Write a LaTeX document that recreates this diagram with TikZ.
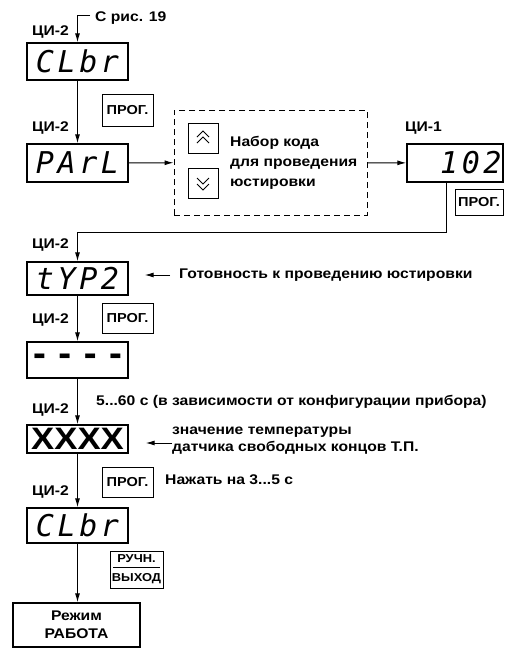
\documentclass[tikz,border=0pt]{standalone}
\usepackage{fontspec}
\setmainfont{Liberation Sans}[FakeStretch=1.12]
\newfontfamily\segfont{DejaVu Sans Mono}
\usetikzlibrary{arrows.meta, positioning, calc}

\begin{document}
\begin{tikzpicture}[
    x=1pt, y=-1pt,
    lbl/.style={inner sep=0pt, font=\fontsize{14}{16}\selectfont\bfseries},
    note/.style={inner sep=0pt, align=left, font=\fontsize{14}{17}\selectfont\bfseries},
    dispbox/.style={draw, line width=1.3pt, rectangle, minimum width=101pt, inner sep=0pt, font=\segfont\itshape\fontsize{30}{30}\selectfont\addfontfeature{LetterSpace=12}},
    keybox/.style={draw, line width=1pt, rectangle, minimum width=51pt, minimum height=32pt, inner sep=0pt, align=center, font=\fontsize{13}{13}\selectfont\bfseries},
    arrowbtn/.style={draw, line width=0.8pt, rectangle, minimum width=30pt, minimum height=30pt, inner sep=0pt},
    modebox/.style={draw, line width=1.3pt, rectangle, minimum width=127pt, minimum height=44pt, inner sep=0pt, align=center, font=\fontsize{14}{18}\selectfont\bfseries},
    arrow/.style={-{Latex[length=9pt,width=5pt]}, line width=1pt},
    link/.style={line width=1pt}
]
\useasboundingbox (0,0) rectangle (511,648);

% Displays
\node (clbr_a) [dispbox, minimum height=37pt] at (77.5,61.5) {CLbr\hspace{-3.6pt}};
\node (parl) [dispbox, minimum height=38pt] at (77.5,163) {PArL\hspace{-3.6pt}};
\node (code) [dispbox, minimum width=96pt, minimum height=38pt, text width=93pt, align=right] at (455,163) {102\hspace{-3.6pt}};
\node (typ) [dispbox, minimum height=33pt] at (77.5,278.5) {tYP2\hspace{-3.6pt}};
\node (dash) [dispbox, minimum height=36pt, font=\segfont\bfseries\fontsize{32}{32}\selectfont\addfontfeature{LetterSpace=19}] at (77.5,360) {-{}-{}-{}-\hspace{-6pt}};
\node (temp) [dispbox, minimum height=28pt, font=\fontsize{31}{31}\selectfont\bfseries] at (77.5,439) {XXXX};
\node (clbr_b) [dispbox, minimum height=35pt] at (77.5,525.5) {CLbr\hspace{-3.6pt}};
\node (mode) [modebox] at (76.5,625) {Режим\\РАБОТА};

% Indicator labels
\node (lbl_a) [lbl, anchor=east] at (69,32) {ЦИ-2};
\node (lbl_b) [lbl, anchor=east] at (69,128) {ЦИ-2};
\node (lbl_c) [lbl, anchor=west] at (405,128) {ЦИ-1};
\node (lbl_d) [lbl, anchor=east] at (69,245) {ЦИ-2};
\node (lbl_e) [lbl, anchor=east] at (69,320) {ЦИ-2};
\node (lbl_f) [lbl, anchor=east] at (69,410) {ЦИ-2};
\node (lbl_g) [lbl, anchor=east] at (69,492) {ЦИ-2};

% Keys
\node (prog_a) [keybox] at (127.5,110) {ПРОГ.};
\node (prog_b) [keybox, minimum width=48pt, minimum height=26pt] at (479,202) {ПРОГ.};
\node (prog_c) [keybox, minimum height=30pt] at (127.5,318) {ПРОГ.};
\node (prog_d) [keybox, minimum height=30pt] at (127.5,482) {ПРОГ.};
\node (manual) [keybox, minimum width=53pt, minimum height=37pt, font=\fontsize{11.5}{12}\selectfont\bfseries] at (136.5,569.5) {РУЧН.\\[7pt]ВЫХОД};
\draw [line width=0.8pt] ($(manual.west)+(3.5,-2)$) -- ($(manual.east)+(-3.5,-2)$);

% Code entry block
\node (entry) [draw, dashed, dash pattern=on 6pt off 4pt, line width=0.9pt, rectangle, minimum width=193pt, minimum height=105pt] at (270.5,162.5) {};
\node (btn_up) [arrowbtn] at (203,138) {};
\node (btn_dn) [arrowbtn] at (203,183) {};
\draw [line width=0.8pt] ($(btn_up)+(-6,-1)$) -- ++(6,-6) -- ++(6,6)
                         ($(btn_up)+(-6,5)$) -- ++(6,-6) -- ++(6,6);
\draw [line width=0.8pt] ($(btn_dn)+(-6,1)$) -- ++(6,6) -- ++(6,-6)
                         ($(btn_dn)+(-6,-5)$) -- ++(6,6) -- ++(6,-6);
\node (entry_txt) [note, anchor=west, font=\fontsize{14}{20}\selectfont\bfseries] at (230,163) {Набор кода\\для проведения\\юстировки};

% Notes
\node (from) [lbl, anchor=west] at (95,18) {С рис. 19};
\node (ready) [note, anchor=west] at (179,275) {Готовность к проведению юстировки};
\node (delay) [note, anchor=west] at (96,402) {5...60 с (в зависимости от конфигурации прибора)};
\node (tnote) [note, anchor=west] at (172,441) {значение температуры\\датчика свободных концов Т.П.};
\node (hold) [note, anchor=west] at (165,480) {Нажать на 3...5 с};

% Connections
\draw [arrow] ($(from.west)+(-5,-3)$) -| (clbr_a.north);
\draw [arrow] (clbr_a) -- (parl);
\draw [arrow] (parl) -- (entry);
\draw [arrow] (entry) -- (code);
\coordinate (turn) at (446,232);
\draw [arrow] (code.south -| turn) -- (turn) -| (typ.north);
\draw [arrow, shorten <=9pt, shorten >=16pt] (ready.west) -- (ready.west -| typ.east);
\draw [arrow] (typ) -- (dash);
\draw [arrow] (dash) -- (temp);
\draw [arrow, shorten >=17pt] (tnote.west |- 0,443) -- (temp.east |- 0,443);
\draw [arrow] (temp) -- (clbr_b);
\draw [arrow] (clbr_b.south) -- (clbr_b.south |- mode.north);

\end{tikzpicture}
\end{document}
